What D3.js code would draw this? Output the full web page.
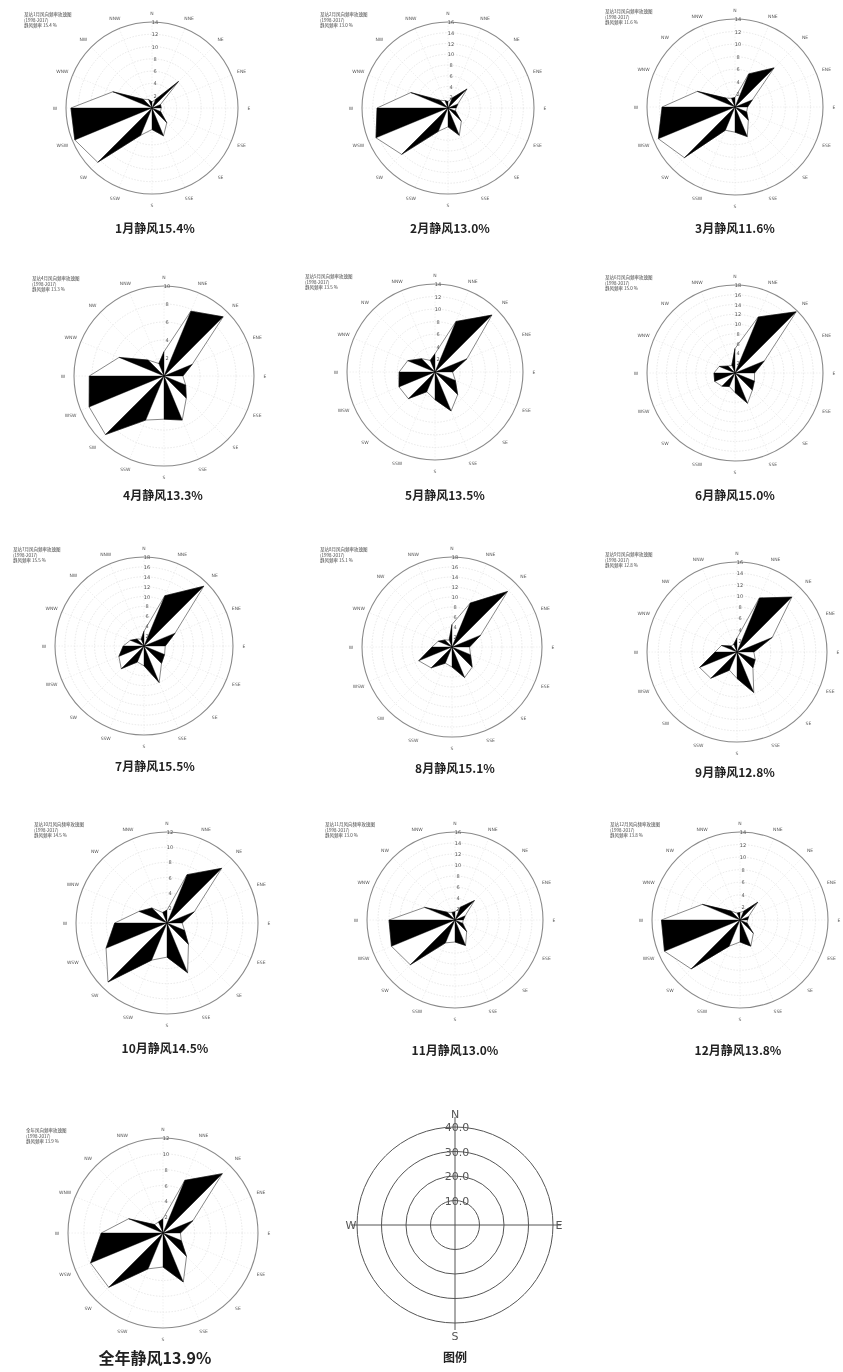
<!DOCTYPE html>
<html><head><meta charset="utf-8">
<script src="https://cdn.jsdelivr.net/npm/d3@7/dist/d3.min.js"></script>
<style>body{margin:0;background:#fff}svg{display:block;filter:grayscale(1)}</style>
</head><body>
<svg id="c" width="843" height="1372"></svg>
<script>
const directions = ["N","NNE","NE","ENE","E","ESE","SE","SSE","S","SSW","SW","WSW","W","WNW","NW","NNW"];
const months = ["1月","2月","3月","4月","5月","6月","7月","8月","9月","10月","11月","12月","全年"];
const calm = [15.4,13.0,11.6,13.3,13.5,15.0,15.5,15.1,12.8,14.5,13.0,13.8,13.9];
const axisMax = [14,16,14,10,14,18,18,18,16,12,16,14,12];
// frequencies (%) N, NNE, ... NNW
const jan = [1.0,1.5,6.1,1.5,1.5,1.5,3.4,4.9,3.5,4.8,12.5,13.6,13.2,6.9,2.0,1.5];
const feb = [1.2,2.0,5.0,2.0,1.5,1.5,3.5,5.5,3.5,4.7,12.2,14.5,13.2,7.5,2.0,1.5];
const mar = [1.5,5.7,8.8,3.0,2.0,2.0,3.0,5.1,4.0,4.0,11.4,13.2,11.6,6.5,2.0,1.5];
const apr = [2.7,7.8,9.3,3.4,2.1,2.6,3.5,5.3,4.8,5.3,9.2,9.0,8.3,5.4,2.5,1.5];
const may = [2.9,8.7,12.8,5.5,2.8,3.5,5.1,6.7,4.4,3.4,6.0,6.2,5.7,4.7,3.0,2.0];
const jun = [5.0,12.4,17.7,6.5,4.0,4.3,5.0,6.7,4.0,3.0,3.8,4.5,4.3,3.5,2.0,1.7];
const jul = [3.0,11.0,17.1,6.8,4.3,4.5,5.0,8.0,4.0,3.5,6.5,5.5,4.2,3.0,2.0,1.5];
const aug = [4.5,9.5,15.7,6.2,3.5,4.0,5.7,6.6,4.0,3.5,5.9,7.2,4.0,3.0,2.0,1.5];
const sep = [2.5,10.4,13.8,6.8,3.0,3.5,4.0,7.8,4.7,3.5,6.6,7.2,3.9,3.0,1.5,1.5];
const oct = [1.7,6.9,10.2,3.9,2.0,2.5,4.0,7.1,4.5,5.3,11.0,8.7,6.9,4.0,2.8,1.5];
const nov = [1.5,2.5,5.0,2.0,1.5,1.5,3.0,5.0,4.0,4.5,11.5,12.5,12.0,6.0,2.0,1.5];
const dec = [1.2,1.5,4.0,1.5,1.2,1.2,3.0,4.5,3.5,4.5,11.0,13.0,12.5,6.5,2.0,1.2];
const annual = [1.8,7.2,10.6,4.1,2.2,2.5,4.2,6.7,4.3,4.9,9.7,9.9,7.8,4.7,1.5,1.5];
const series = [jan,feb,mar,apr,may,jun,jul,aug,sep,oct,nov,dec,annual];
const legendRings = [10,20,30,40];
const legendDirs = ["N","E","S","W"];

const layout = [
  [152,108,86],[448,108,86],[735,107,88],
  [164,376,90],[435,372,88],[735,373,88],
  [144,646,89],[452,647,90],[737,652,90],
  [167,923,91],[455,920,88],[740,920,88],
  [163,1233,95]
];
const captionPos = [
  [155,233],[450,233],[735,233],
  [163,500],[445,500],[735,500],
  [155,771],[455,773],[735,777],
  [165,1053],[455,1055],[738,1055],
  [155,1364]
];

const svg = d3.select("#c");
const ang = d3.scaleLinear().domain([0,16]).range([0,2*Math.PI]);
function pt(a, r){ return [Math.sin(a)*r, -Math.cos(a)*r]; }

series.forEach((vals, k) => {
  const [cx, cy, R] = layout[k];
  const rs = d3.scaleLinear().domain([0, axisMax[k]]).range([0, R]);
  const g = svg.append("g").attr("transform", `translate(${cx},${cy})`);
  const ticks = d3.range(2, axisMax[k] + 0.001, 2);
  g.selectAll("circle.ring").data(ticks.slice(0,-1)).join("circle")
    .attr("r", d => rs(d)).attr("fill","none").attr("stroke","#d8d8d8")
    .attr("stroke-width",0.6).attr("stroke-dasharray","1.5,1.5");
  g.selectAll("line.sp").data(directions).join("line")
    .attr("x1",0).attr("y1",0)
    .attr("x2",(d,i)=>pt(ang(i),R)[0]).attr("y2",(d,i)=>pt(ang(i),R)[1])
    .attr("stroke","#e0e0e0").attr("stroke-width",0.5).attr("stroke-dasharray","1.5,1.5");
  g.append("circle").attr("r",R).attr("fill","none").attr("stroke","#8a8a8a").attr("stroke-width",1.1);
  const tips = vals.map((v,i)=>pt(ang(i), rs(v)));
  g.append("polygon").attr("points", tips.map(p=>p.join(",")).join(" "))
    .attr("fill","#fff").attr("stroke","#555").attr("stroke-width",0.7);
  vals.forEach((v,i)=>{
    if (i % 2 === 1) {
      const j = (i+1)%16;
      g.append("polygon").attr("points", [[0,0], tips[i], tips[j]].map(p=>p.join(",")).join(" "))
        .attr("fill","#000").attr("stroke","#000").attr("stroke-width",0.4);
    }
  });
  g.selectAll("text.tk").data(ticks).join("text")
    .attr("x",3).attr("y",d=>-rs(d)+2).attr("text-anchor","middle")
    .attr("font-family","DejaVu Sans").attr("font-size",5).attr("fill","#555")
    .text(d=>d);
  g.selectAll("text.dl").data(directions).join("text")
    .attr("x",(d,i)=>pt(ang(i), i===0? R+9 : R+11)[0])
    .attr("y",(d,i)=>pt(ang(i), i===0? R+9 : R+11)[1]+2)
    .attr("text-anchor","middle")
    .attr("font-family","DejaVu Sans").attr("font-size",4.5).attr("fill","#555")
    .text(d=>d);
  const hx = -R-42, hy = -R-6;
  const title = k===12 ? "全年风向频率玫瑰图" : "某站" + months[k] + "风向频率玫瑰图";
  [title, "(1998-2017)", "静风频率    " + calm[k].toFixed(1) + " %"].forEach((t,li)=>{
    g.append("text").attr("x",hx).attr("y",hy+li*5.5)
      .attr("font-family","Noto Sans CJK SC").attr("font-size",4.5).attr("fill","#444").text(t);
  });
  const [tx, ty] = captionPos[k];
  svg.append("text").attr("x",tx).attr("y",ty).attr("text-anchor","middle")
    .attr("font-family","Noto Sans CJK SC").attr("font-weight", "bold")
    .attr("font-size", k===12 ? 16 : 12).attr("fill","#222")
    .text(months[k] + "静风" + calm[k].toFixed(1) + "%");
});

// legend
(function(){
  const cx = 455, cy = 1225;
  const rs = d3.scaleLinear().domain([0,40]).range([0,98]);
  const g = svg.append("g").attr("transform", `translate(${cx},${cy})`);
  g.selectAll("circle").data(legendRings).join("circle")
    .attr("r", d=>rs(d)).attr("fill","none").attr("stroke","#555").attr("stroke-width",1);
  g.append("line").attr("x1",-104).attr("x2",106).attr("y1",0).attr("y2",0).attr("stroke","#555");
  g.append("line").attr("x1",0).attr("x2",0).attr("y1",-108).attr("y2",105).attr("stroke","#555");
  g.selectAll("text.r").data(legendRings).join("text")
    .attr("x",2).attr("y",d=>-rs(d)+4).attr("text-anchor","middle")
    .attr("font-family","DejaVu Sans").attr("font-size",11).attr("fill","#555")
    .text(d=>d.toFixed(1));
  const dpos = {N:[0,-107],E:[104,4],S:[0,115],W:[-104,4]};
  legendDirs.forEach(d=>{
    g.append("text").attr("x",dpos[d][0]).attr("y",dpos[d][1]).attr("text-anchor","middle")
      .attr("font-family","DejaVu Sans").attr("font-size",11).attr("fill","#555").text(d);
  });
  svg.append("text").attr("x",455).attr("y",1362).attr("text-anchor","middle")
    .attr("font-family","Noto Sans CJK SC").attr("font-weight","bold").attr("font-size",12).attr("fill","#222").text("图例");
})();
</script>
</body></html>
